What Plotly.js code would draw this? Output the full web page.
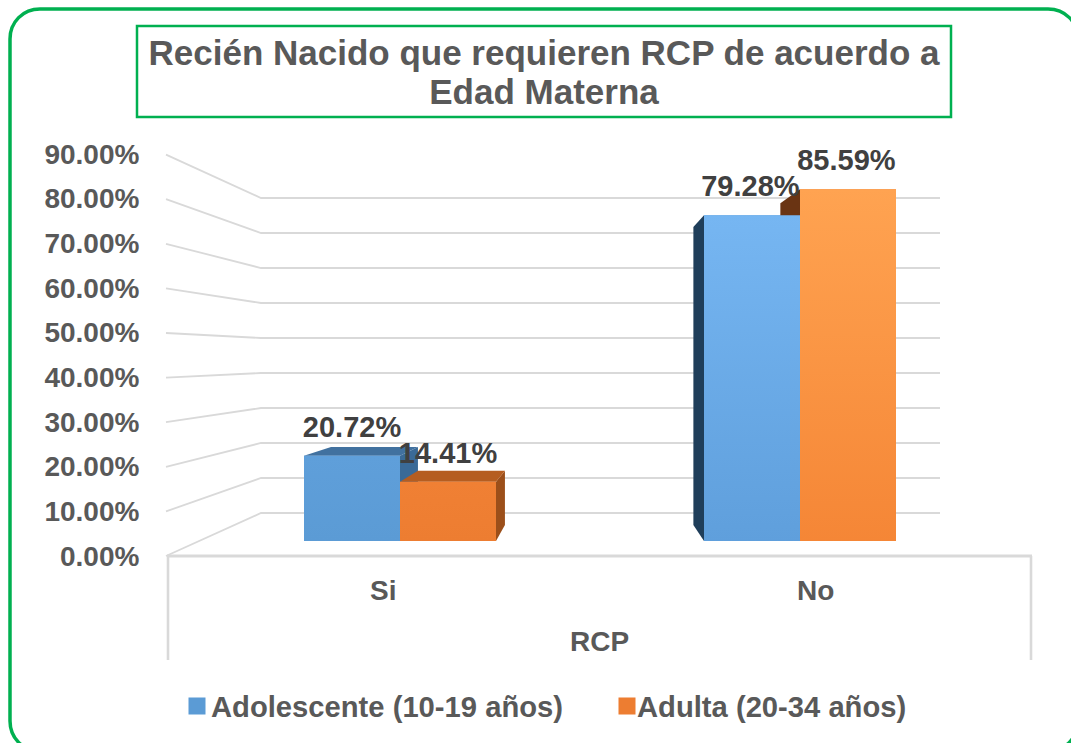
<!DOCTYPE html>
<html><head><meta charset="utf-8">
<script src="https://cdn.plot.ly/plotly-3.0.1.min.js"></script>
<style>html,body{margin:0;padding:0;background:#fff}#c{width:1071px;height:743px}</style>
</head><body><div id="c"></div>
<script>
const categories = ['Si', 'No'];
const adolescente = [20.72, 79.28];
const adulta = [14.41, 85.59];
const seriesNames = ['Adolescente (10-19 años)', 'Adulta (20-34 años)'];
const valueTicks = [0, 10, 20, 30, 40, 50, 60, 70, 80, 90];

const W = 1071, H = 743, PXY = 4.11, PXX = 400;
const FONT = '"Liberation Sans", Arial, sans-serif';
const GRID = '#d9d9d9', GREEN = '#00b050';
// scene coordinates: x = category index, y = value on the front plane of the bars
const px2x = p => (p - PXX) / PXX, px2y = p => (541 - p) / PXY;
const VP = px2x(591), K = 0.094, BAR = 0.24;
const backX = x => x + K * (VP - x);
const backY = v => (16 + 3.76 * v) / PXY;
const leftWall = v => (-15 + 4.46 * v) / PXY;
const backWall = v => (28 + 3.5 * v) / PXY;

const traces = [];
const line = (xs, ys, w) => traces.push({type: 'scatter', mode: 'lines', x: xs, y: ys, xaxis: 'x', yaxis: 'y',
  line: {color: GRID, width: w || 1.8}, showlegend: false, hoverinfo: 'skip', cliponaxis: false});

valueTicks.forEach(v => line([px2x(166), px2x(261), px2x(940)], [leftWall(v), backWall(v), backWall(v)]));
line([px2x(167), px2x(1032)], [px2y(556), px2y(556)], 2.8);
line([px2x(168), px2x(168)], [px2y(556), px2y(660)], 2.6);
line([px2x(1031), px2x(1031)], [px2y(556), px2y(660)], 2.6);

// axis carrier: category labels and value ticks
traces.push({type: 'scatter', mode: 'none', x: categories, y: [0, 0], xaxis: 'x3', yaxis: 'y3', showlegend: false, hoverinfo: 'skip'});

// real bars
traces.push({type: 'bar', name: seriesNames[0], x: [0, 1], y: adolescente, xaxis: 'x2', yaxis: 'y2', marker: {color: '#5b9bd5'}, hoverinfo: 'skip'});
traces.push({type: 'bar', name: seriesNames[1], x: [0, 1], y: adulta, xaxis: 'x2', yaxis: 'y2', marker: {color: '#ed7d31'}, hoverinfo: 'skip'});

const poly = (xs, ys, color, grad, stop) => {
  const t = {type: 'scatter', mode: 'lines', x: xs.concat(xs[0]), y: ys.concat(ys[0]), xaxis: 'x2', yaxis: 'y2',
    fill: 'toself', line: {width: 0}, showlegend: false, hoverinfo: 'skip'};
  if (grad) t.fillgradient = {type: 'vertical', start: 0, stop: stop, colorscale: grad};
  else t.fillcolor = color;
  traces.push(t);
};
const bars = [];
categories.forEach((c, i) => {
  bars.push({xl: i - BAR, xr: i, v: adolescente[i], s: 0, i});
  bars.push({xl: i, xr: i + BAR, v: adulta[i], s: 1, i});
});
const sideCol = [['#3a6a97', '#1f3e5a'], ['#9c4f1a', '#6a3413']];
const topCol = ['#41719f', '#b55d20'];
const grads = [
  [[[0, '#5b9bd5'], [1, '#5f9fda']], [[0, '#ed7d31'], [1, '#f08034']]],
  [[[0, '#5f9fdc'], [1, '#76b6f2']], [[0, '#f58636'], [1, '#ffa351']]]
];
bars.forEach(b => {
  if (b.xr < VP) poly([b.xr, backX(b.xr), backX(b.xr), b.xr], [b.v, backY(b.v), backY(0), 0], sideCol[b.s][0]);
  if (b.xl > VP) poly([b.xl, backX(b.xl), backX(b.xl), b.xl], [b.v, backY(b.v), backY(0), 0], sideCol[b.s][1]);
  if (backY(b.v) > b.v) poly([b.xl, backX(b.xl), backX(b.xr), b.xr], [b.v, backY(b.v), backY(b.v), b.v], topCol[b.s]);
});
bars.forEach(b => poly([b.xl, b.xr, b.xr, b.xl], [0, 0, b.v, b.v], null, grads[b.i][b.s], b.v));

// value labels
traces.push({type: 'scatter', mode: 'text', xaxis: 'x2', yaxis: 'y2', showlegend: false, hoverinfo: 'skip', cliponaxis: false,
  x: bars.map(b => (b.xl + b.xr) / 2 - b.i * 0.004), y: bars.map(b => b.v + 6.45),
  text: bars.map(b => b.v.toFixed(2) + '%'), textposition: 'middle center',
  textfont: {family: FONT, size: 29, color: '#404040', weight: 700}});

const hidden = (range, extra) => Object.assign({range, visible: false, fixedrange: true, domain: [0, 1]}, extra);
const xr = [px2x(0), px2x(W)], yr = [px2y(H), px2y(0)];
const fx = p => p / W, fy = p => 1 - p / H;
const tickFont = {family: FONT, size: 28, color: '#595959', weight: 700};

const fr = [10, 9, 1078, 751], r = 30, c = 13;
const framePath = `M${fx(fr[0])},${fy(fr[1] + r)} C${fx(fr[0])},${fy(fr[1] + c)} ${fx(fr[0] + c)},${fy(fr[1])} ${fx(fr[0] + r)},${fy(fr[1])}` +
  ` L${fx(fr[2] - r)},${fy(fr[1])} C${fx(fr[2] - c)},${fy(fr[1])} ${fx(fr[2])},${fy(fr[1] + c)} ${fx(fr[2])},${fy(fr[1] + r)}` +
  ` L${fx(fr[2])},${fy(fr[3] - r)} C${fx(fr[2])},${fy(fr[3] - c)} ${fx(fr[2] - c)},${fy(fr[3])} ${fx(fr[2] - r)},${fy(fr[3])}` +
  ` L${fx(fr[0] + r)},${fy(fr[3])} C${fx(fr[0] + c)},${fy(fr[3])} ${fx(fr[0])},${fy(fr[3] - c)} ${fx(fr[0])},${fy(fr[3] - r)} Z`;

const layout = {
  width: W, height: H, margin: {l: 0, r: 0, t: 0, b: 0, pad: 0},
  paper_bgcolor: '#fff', plot_bgcolor: 'rgba(0,0,0,0)', hovermode: false,
  barmode: 'group', bargap: 0.52, bargroupgap: 0,
  title: {text: 'Recién Nacido que requieren RCP de acuerdo a<br>Edad Materna',
    x: 544 / W, xanchor: 'center', xref: 'paper', y: fy(71), yref: 'paper', yanchor: 'middle',
    font: {family: FONT, size: 35, color: '#595959', weight: 700}},
  xaxis: hidden(xr), yaxis: hidden(yr),
  xaxis2: hidden(xr, {overlaying: 'x', anchor: 'y2'}), yaxis2: hidden(yr, {overlaying: 'y', anchor: 'x2'}),
  xaxis3: {type: 'category', categoryarray: categories, range: [-0.5, 1.5], domain: [fx(167), fx(1032)], anchor: 'y3',
    showgrid: false, showline: false, zeroline: false, ticks: 'outside', ticklen: 9, tickcolor: 'rgba(0,0,0,0)', tickwidth: 1,
    tickfont: tickFont, fixedrange: true,
    title: {text: 'RCP', standoff: 26, font: tickFont}},
  yaxis3: {range: [0, 90], domain: [fy(556), fy(154)], anchor: 'x3', tickmode: 'array', tickvals: valueTicks,
    ticktext: valueTicks.map(v => v.toFixed(2) + '%'),
    showgrid: false, showline: false, zeroline: false, ticks: 'outside', ticklen: 21, tickcolor: 'rgba(0,0,0,0)', tickwidth: 1,
    tickfont: tickFont, fixedrange: true},
  legend: {orientation: 'h', x: fx(171), xanchor: 'left', y: fy(706), yanchor: 'middle', traceorder: 'normal',
    font: {family: FONT, size: 29.2, color: '#595959', weight: 700}, bgcolor: 'rgba(0,0,0,0)',
    entrywidth: 381, entrywidthmode: 'pixels', itemclick: false, itemdoubleclick: false},
  shapes: [
    {type: 'rect', xref: 'paper', yref: 'paper', x0: fx(137), x1: fx(951), y0: fy(26), y1: fy(117), line: {color: GREEN, width: 2.5}, fillcolor: 'rgba(0,0,0,0)'},
    {type: 'path', xref: 'paper', yref: 'paper', path: framePath, line: {color: GREEN, width: 3.5}, fillcolor: 'rgba(0,0,0,0)'}
  ]
};
Plotly.newPlot('c', traces, layout, {displayModeBar: false}).then(gd => {
  // tighter title leading and position, as in the reference
  const t = gd.querySelector('.gtitle');
  if (t) {
    const lines = t.querySelectorAll('tspan.line');
    lines.forEach(l => l.setAttribute('y', parseFloat(l.getAttribute('y')) - 6));
    if (lines[1]) lines[1].setAttribute('dy', '1.114em');
  }
  // larger legend swatches, closer to the text
  const shift = [6, 10];
  gd.querySelectorAll('.legend .legendpoints').forEach((g, i) => {
    g.querySelectorAll('path').forEach(p => p.setAttribute('d', 'M8.5,8.5H-8.5V-8.5H8.5Z'));
    g.setAttribute('transform', 'translate(' + shift[i] + ',0)');
  });
});
</script></body></html>
